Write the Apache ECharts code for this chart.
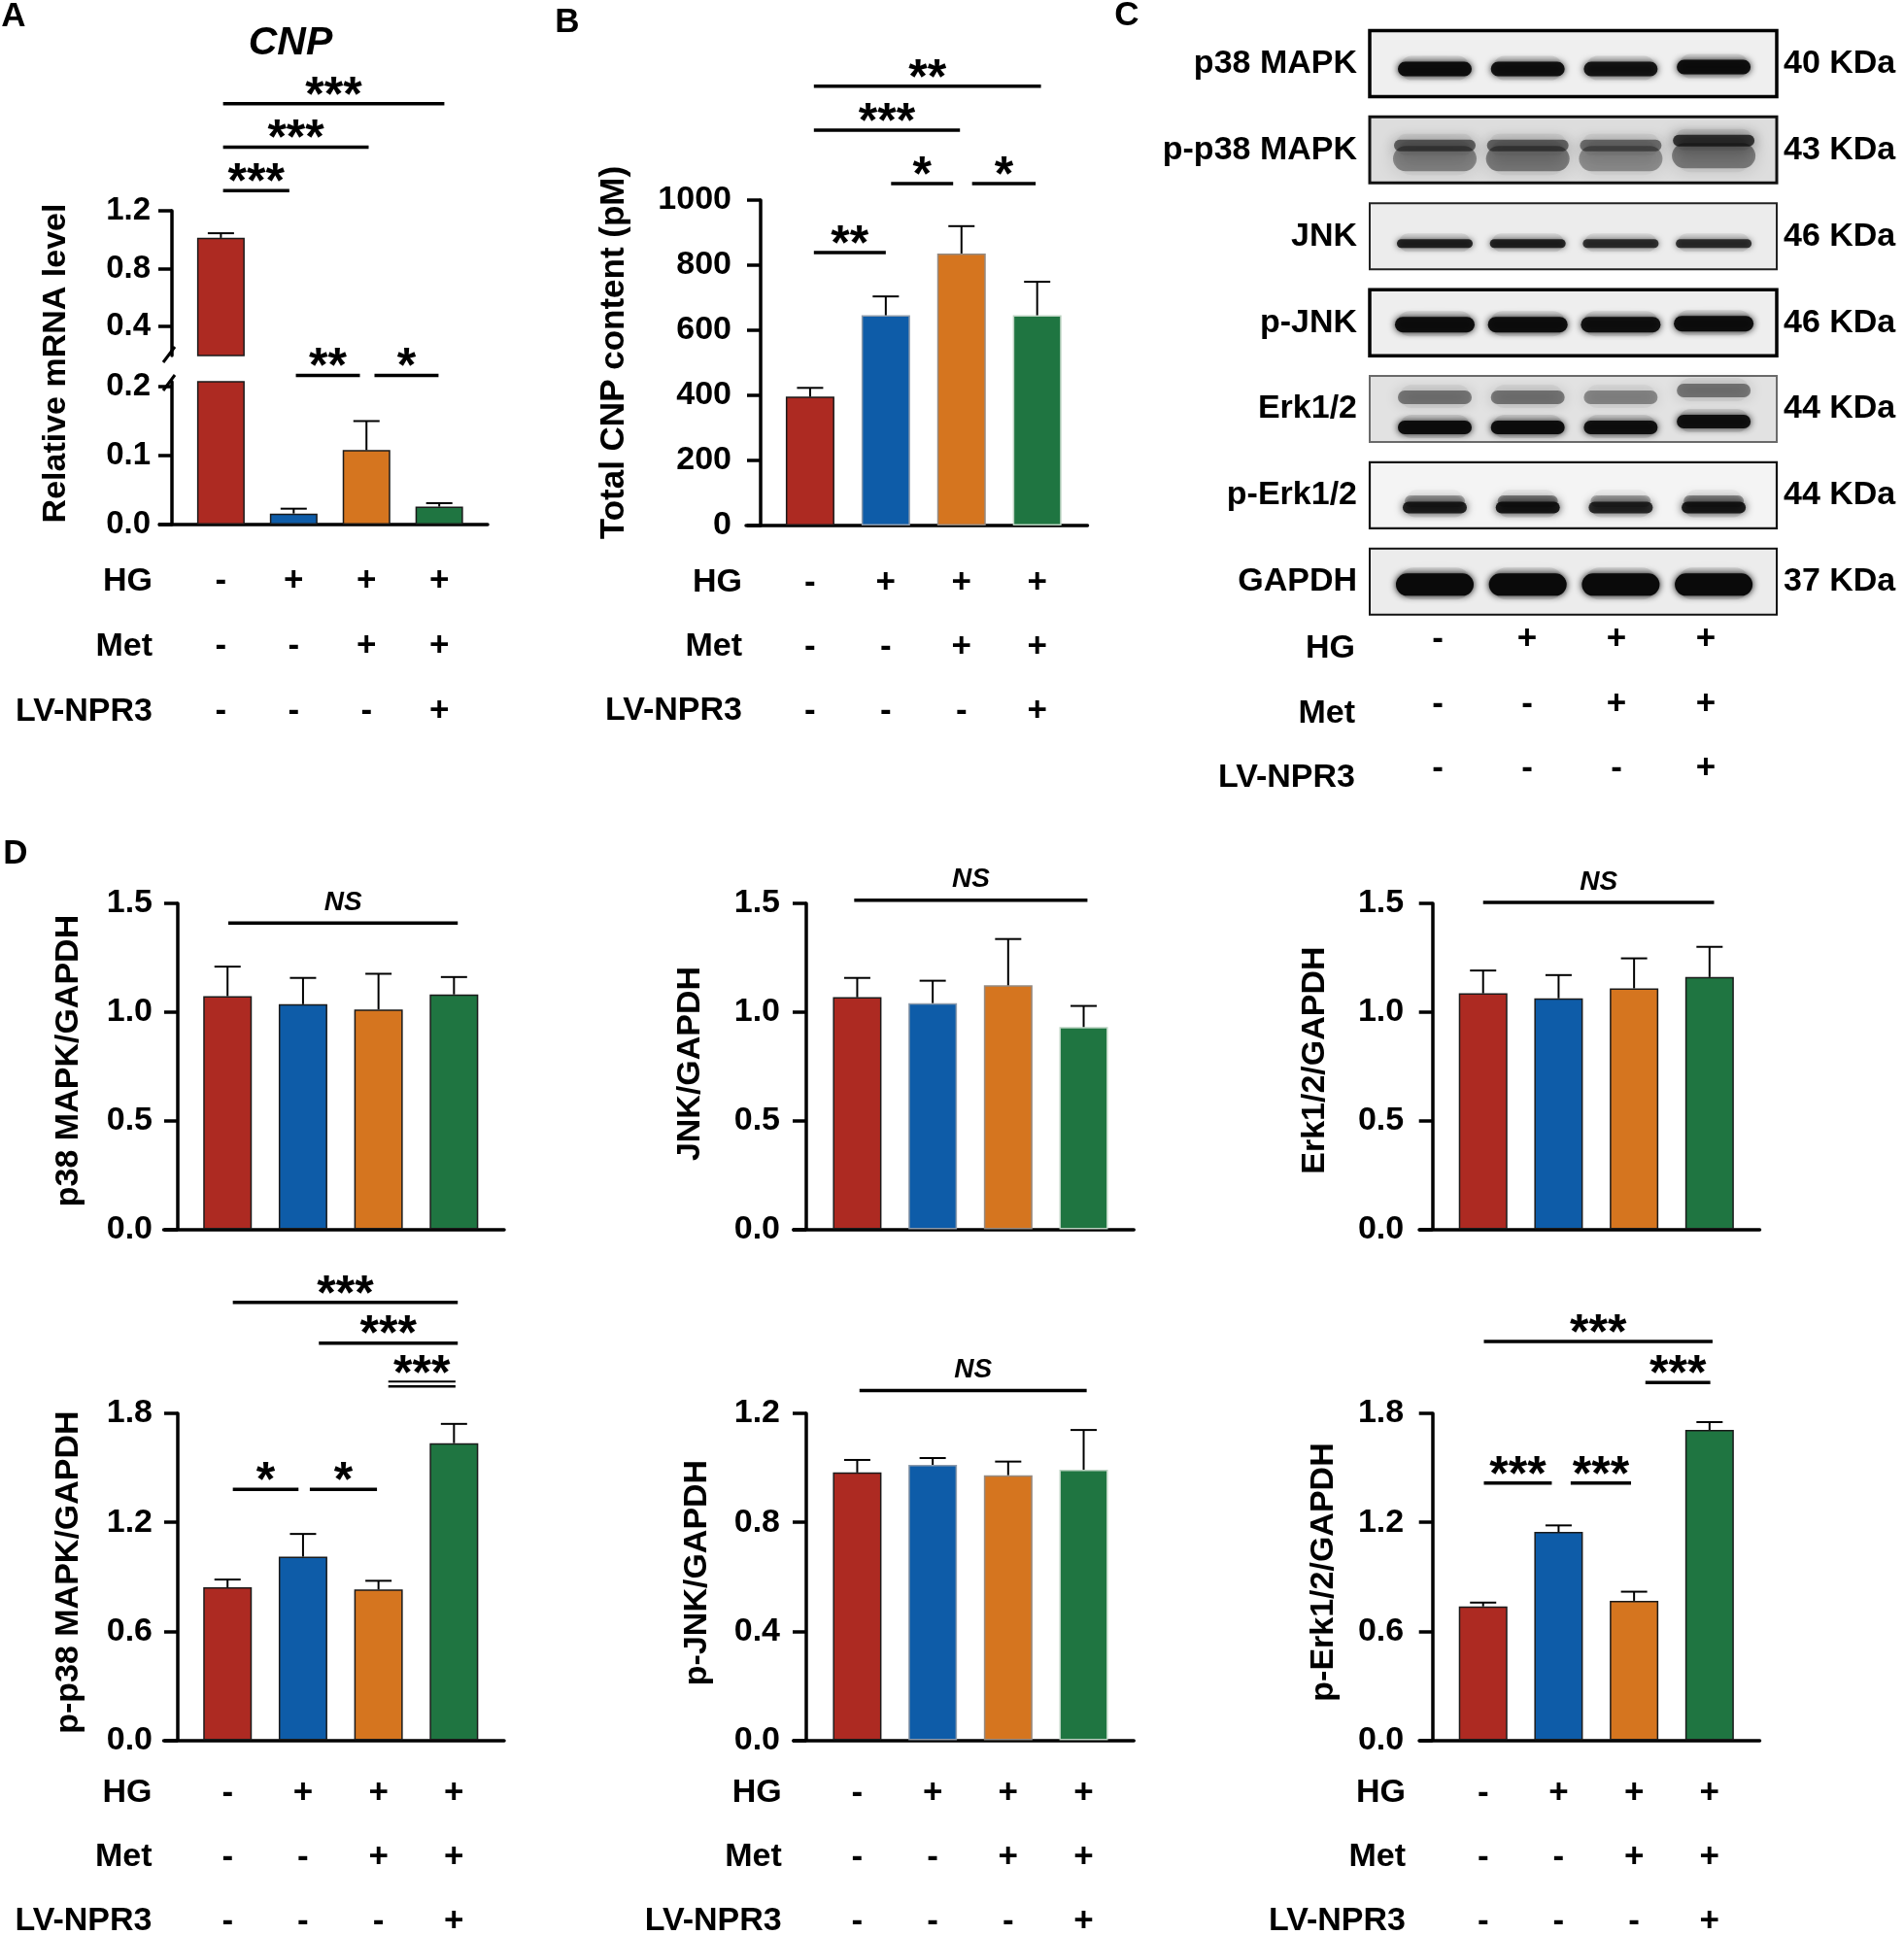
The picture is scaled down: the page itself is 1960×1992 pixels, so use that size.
<!DOCTYPE html>
<html>
<head>
<meta charset="utf-8">
<title>CNP / MAPK figure</title>
<script src="https://cdn.jsdelivr.net/npm/echarts@6/dist/echarts.min.js"></script>
<style>
html, body { margin: 0; padding: 0; background: #ffffff; }
#chart { width: 1960px; height: 1992px; }
</style>
</head>
<body>
<div id="chart"></div>
<script>
// ================= DATA =================
const groups = ['Control', 'HG', 'HG + Met', 'HG + Met + LV-NPR3'];
const conditionRows = ['HG', 'Met', 'LV-NPR3'];
const signHG  = ['-', '+', '+', '+'];
const signMet = ['-', '-', '+', '+'];
const signLV  = ['-', '-', '-', '+'];

// A: CNP relative mRNA level (broken axis)
const cnpMrna    = [1.013, 0.016, 0.108, 0.026];
const cnpMrnaErr = [0.032, 0.007, 0.042, 0.005];
const ticksMrnaUpper = [0.4, 0.8, 1.2];
const ticksMrnaLower = [0, 0.1, 0.2];

// B: total CNP content (pM)
const cnpContent    = [396, 646, 836, 646];
const cnpContentErr = [27, 58, 84, 103];

// D: densitometry ratios
const p38Ratio  = [1.073, 1.036, 1.012, 1.081];
const p38Err    = [0.136, 0.121, 0.164, 0.080];
const jnkRatio  = [1.068, 1.041, 1.123, 0.931];
const jnkErr    = [0.089, 0.103, 0.213, 0.097];
const erkRatio  = [1.086, 1.063, 1.109, 1.161];
const erkErr    = [0.105, 0.107, 0.138, 0.139];
const pp38Ratio = [0.842, 1.011, 0.830, 1.636];
const pp38Err   = [0.043, 0.125, 0.048, 0.106];
const pjnkRatio = [0.983, 1.011, 0.973, 0.993];
const pjnkErr   = [0.046, 0.025, 0.050, 0.146];
const perkRatio = [0.737, 1.147, 0.768, 1.709];
const perkErr   = [0.021, 0.036, 0.050, 0.043];

// significance brackets: [from group, to group, height in axis units, label, double line]
const sigAUpper = [[0.03, 3.07, 1.94, '***'], [0.03, 2.03, 1.64, '***'], [0.03, 0.94, 1.34, '***']];
const sigALower = [[1.03, 1.91, 0.216, '**'], [2.11, 2.99, 0.216, '*']];
const sigB    = [[0.05, 3.05, 1350, '**'], [0.05, 1.98, 1215, '***'], [1.07, 1.89, 1051, '*'], [2.14, 2.98, 1051, '*'], [0.05, 1.0, 839, '**']];
const sigP38  = [[0.01, 3.05, 1.41, 'NS']];
const sigJnk  = [[-0.04, 3.05, 1.515, 'NS']];
const sigErk  = [[0.0, 3.06, 1.505, 'NS']];
const sigPp38 = [[0.07, 3.05, 2.411, '***'], [1.21, 3.05, 2.187, '***'], [2.13, 3.02, 1.949, '***', 1], [0.07, 0.94, 1.381, '*'], [1.09, 1.98, 1.381, '*']];
const sigPjnk = [[0.03, 3.04, 1.284, 'NS']];
const sigPerk = [[0.01, 3.04, 2.196, '***'], [2.15, 3.01, 1.970, '***'], [0.01, 0.91, 1.416, '***'], [1.16, 1.96, 1.416, '***']];

// C: western blots (band density per lane, 0 = none, 1 = saturated)
const blotNames = ['p38 MAPK', 'p-p38 MAPK', 'JNK', 'p-JNK', 'Erk1/2', 'p-Erk1/2', 'GAPDH'];
const blotKDa   = ['40 KDa', '43 KDa', '46 KDa', '46 KDa', '44 KDa', '44 KDa', '37 KDa'];
const bandP38       = [0.97, 0.93, 0.90, 0.95];
const bandPP38Upper = [0.55, 0.52, 0.48, 0.75];
const bandPP38Lower = [0.38, 0.42, 0.34, 0.42];
const bandJNK       = [0.82, 0.82, 0.76, 0.76];
const bandPJNK      = [0.96, 0.96, 0.93, 0.96];
const bandErkUpper  = [0.45, 0.45, 0.38, 0.45];
const bandErkLower  = [0.96, 0.96, 0.93, 0.93];
const bandPErkHaze  = [0.30, 0.42, 0.28, 0.38];
const bandPErk      = [0.85, 0.90, 0.80, 0.88];
const bandGAPDH     = [1.00, 1.00, 1.00, 1.00];

// ================= STYLE / LAYOUT =================
const FONT = '"Liberation Sans", Arial, Helvetica, sans-serif';
const BAR_COLORS = ['#ad2a22', '#0e5ca8', '#d5751f', '#1f7541'];
const EDGE_DARK  = ['#1a1a1a', '#1a1a1a', '#1a1a1a', '#1a1a1a'];
const EDGE_LIGHT = ['#1a1a1a', '#8e9bab', '#948a82', '#bcd3c2'];
const X_MIN = -0.846, X_MAX = 3.665;
const AXIS_W = 3.5;
const SIGN_FONT = 35;

const grid = [], xAxis = [], yAxis = [], series = [], graphic = [];

function addGrid(g) {
  grid.push(Object.assign({ containLabel: false, outerBoundsMode: 'none' }, g));
  return grid.length - 1;
}

function renderErr(params, api) {
  const x = api.value(0), v = api.value(1), e = api.value(2);
  const p0 = api.coord([x, v]), p1 = api.coord([x, v + e]);
  const st = { stroke: '#000', lineWidth: 2 };
  return { type: 'group', children: [
    { type: 'line', shape: { x1: p0[0], y1: p0[1], x2: p1[0], y2: p1[1] }, style: st },
    { type: 'line', shape: { x1: p1[0] - 13.5, y1: p1[1], x2: p1[0] + 13.5, y2: p1[1] }, style: st }
  ]};
}

function makeSigRender(list) {
  return function (params, api) {
    const s = list[params.dataIndex];
    const a = api.coord([s[0], s[2]]), b = api.coord([s[1], s[2]]);
    const ns = s[3] === 'NS';
    const children = [];
    if (s[4]) {
      children.push({ type: 'line', shape: { x1: a[0], y1: a[1], x2: b[0], y2: a[1] }, style: { stroke: '#000', lineWidth: 2.5 } });
      children.push({ type: 'line', shape: { x1: a[0], y1: a[1] - 5, x2: b[0], y2: a[1] - 5 }, style: { stroke: '#000', lineWidth: 2 } });
    } else {
      children.push({ type: 'line', shape: { x1: a[0], y1: a[1], x2: b[0], y2: a[1] }, style: { stroke: '#000', lineWidth: 3.5 } });
    }
    children.push({ type: 'text', x: (a[0] + b[0]) / 2, y: a[1] - (ns ? 21 : (s[4] ? 11 : 7)),
      style: { text: s[3], fill: '#000', fontSize: ns ? 28 : 50, fontWeight: 'bold', fontStyle: ns ? 'italic' : 'normal',
               fontFamily: FONT, align: 'center', verticalAlign: 'middle' } });
    return { type: 'group', children };
  };
}

function addBarPanel(p) {
  const gi = addGrid({ left: p.left, top: p.top, width: p.width, height: p.height });
  const xi = xAxis.length;
  xAxis.push({ type: 'value', gridIndex: gi, min: X_MIN, max: X_MAX,
    axisLine: { show: p.xLine !== false, onZero: false, lineStyle: { color: '#000', width: AXIS_W } },
    axisTick: { show: false }, axisLabel: { show: false }, splitLine: { show: false } });
  const yi = yAxis.length;
  const labelCfg = { margin: p.labelMargin, color: '#000', fontSize: p.tickFont, fontWeight: 'bold', fontFamily: FONT,
    formatter: v => p.dec ? Number(v).toFixed(p.dec) : String(Math.round(v)) };
  const tickCfg = { show: true, length: 14, lineStyle: { color: '#000', width: AXIS_W } };
  if (p.ticks) { labelCfg.customValues = p.ticks; tickCfg.customValues = p.ticks; }
  const ya = { type: 'value', gridIndex: gi, min: p.min, max: p.max, offset: -p.yOff,
    axisLine: { show: true, onZero: false, lineStyle: { color: '#000', width: AXIS_W } },
    axisTick: tickCfg, axisLabel: labelCfg, splitLine: { show: false } };
  if (p.interval) ya.interval = p.interval;
  yAxis.push(ya);
  const idx = p.only || [0, 1, 2, 3];
  const edges = p.edges || EDGE_DARK;
  series.push({ type: 'bar', xAxisIndex: xi, yAxisIndex: yi, barWidth: p.barWidth || 50, silent: true, animation: false, z: 2, clip: true,
    data: idx.map(i => ({ value: [i, p.vals[i]], itemStyle: { color: BAR_COLORS[i], borderColor: edges[i], borderWidth: 1.5 } })) });
  const eIdx = p.errOnly || idx;
  series.push({ type: 'custom', xAxisIndex: xi, yAxisIndex: yi, silent: true, animation: false, z: 3,
    data: eIdx.map(i => [i, p.vals[i], p.errs[i]]), renderItem: renderErr });
  if (p.sig) {
    series.push({ type: 'custom', xAxisIndex: xi, yAxisIndex: yi, silent: true, animation: false, z: 4,
      data: p.sig.map(s => [s[0], s[2], s[1]]), renderItem: makeSigRender(p.sig) });
  }
}

function addSignTable(t) {
  const gi = addGrid({ left: t.left, top: t.top, width: t.width, height: t.height });
  const xi = xAxis.length;
  xAxis.push({ type: 'value', gridIndex: gi, min: t.min, max: t.max, show: false });
  const yi = yAxis.length;
  yAxis.push({ type: 'category', gridIndex: gi, data: conditionRows, inverse: true,
    axisLine: { show: false }, axisTick: { show: false }, splitLine: { show: false },
    axisLabel: { interval: 0, margin: t.margin, color: '#000', fontSize: 34, fontWeight: 'bold', fontFamily: FONT } });
  const rows = [signHG, signMet, signLV];
  const dy = t.signShift || 0;
  const data = [];
  rows.forEach((row, r) => row.forEach((s, g) => data.push([g, r])));
  series.push({ type: 'custom', xAxisIndex: xi, yAxisIndex: yi, silent: true, animation: false, data,
    renderItem: (params, api) => {
      const g = api.value(0), r = api.value(1);
      const c = api.coord([g, r]);
      return { type: 'text', x: c[0], y: c[1] + dy, style: { text: rows[r][g], fill: '#000', fontSize: SIGN_FONT, fontWeight: 'bold',
        fontFamily: FONT, align: 'center', verticalAlign: 'middle' } };
    } });
}

// ---------- Panel A (broken axis) ----------
const A_LAY = { left: 164, width: 338, yOff: 13, labelMargin: 22, tickFont: 33, barWidth: 49 };
const A_UP = { top: 217, height: 149 };
const A_LO = { top: 393, height: 147 };
addBarPanel(Object.assign({}, A_LAY, A_UP, { min: 0.2, max: 1.2, ticks: ticksMrnaUpper, dec: 1, xLine: false,
  vals: cnpMrna, errs: cnpMrnaErr, only: [0], sig: sigAUpper }));
addBarPanel(Object.assign({}, A_LAY, A_LO, { min: 0, max: 0.207, ticks: ticksMrnaLower, dec: 1,
  vals: cnpMrna, errs: cnpMrnaErr, errOnly: [1, 2, 3], sig: sigALower }));
addSignTable({ left: 164, width: 338, top: 565, height: 201, min: X_MIN, max: X_MAX, margin: 7 });

// ---------- Panel B ----------
addBarPanel({ left: 768, top: 206, width: 351.5, height: 335, yOff: 15, labelMargin: 30, tickFont: 34,
  min: 0, max: 1000, interval: 200, dec: 0, vals: cnpContent, errs: cnpContentErr, sig: sigB, edges: EDGE_LIGHT });
addSignTable({ left: 768, width: 351.5, top: 567, height: 198, min: X_MIN, max: X_MAX, margin: 4 });

// ---------- Panel D ----------
const D_COLS = [
  { left: 168.5, yOff: 14.5, labelMargin: 26, rowMargin: 12 },
  { left: 816.7, yOff: 13.3, labelMargin: 27, rowMargin: 12 },
  { left: 1461,  yOff: 13.7, labelMargin: 29.5, rowMargin: 14 }
];
const D_ROWS = [{ top: 930, height: 335.5 }, { top: 1455, height: 336.5 }];
const dPanels = [
  { vals: p38Ratio,  errs: p38Err,  sig: sigP38,  col: 0, row: 0, max: 1.5, interval: 0.5, edges: EDGE_DARK },
  { vals: jnkRatio,  errs: jnkErr,  sig: sigJnk,  col: 1, row: 0, max: 1.5, interval: 0.5, edges: EDGE_LIGHT },
  { vals: erkRatio,  errs: erkErr,  sig: sigErk,  col: 2, row: 0, max: 1.5, interval: 0.5, edges: EDGE_DARK },
  { vals: pp38Ratio, errs: pp38Err, sig: sigPp38, col: 0, row: 1, max: 1.8, interval: 0.6, edges: EDGE_DARK },
  { vals: pjnkRatio, errs: pjnkErr, sig: sigPjnk, col: 1, row: 1, max: 1.2, interval: 0.4, edges: EDGE_LIGHT },
  { vals: perkRatio, errs: perkErr, sig: sigPerk, col: 2, row: 1, max: 1.8, interval: 0.6, edges: EDGE_DARK }
];
dPanels.forEach(d => {
  const c = D_COLS[d.col], r = D_ROWS[d.row];
  addBarPanel({ left: c.left, top: r.top, width: 350.5, height: r.height, yOff: c.yOff, labelMargin: c.labelMargin,
    tickFont: 34, min: 0, max: d.max, interval: d.interval, dec: 1, vals: d.vals, errs: d.errs, sig: d.sig, edges: d.edges });
});
D_COLS.forEach(c => addSignTable({ left: c.left, width: 350.5, top: 1813, height: 198, min: X_MIN, max: X_MAX, margin: c.rowMargin }));

// ---------- Panel C (western blots) ----------
const BLOT = { left: 1410, top: 21, width: 419, height: 622.3, min: -0.70, max: 3.678, boxH: 68 };
const BOX_BG = ['#efefef', '#dddddd', '#ececec', '#eeeeee', '#e2e2e2', '#f4f4f4', '#ececec'];
const BOX_EDGE = ['#000', '#111', '#222', '#000', '#6a6a6a', '#111', '#111'];
const BOX_LW = [3.5, 3, 2, 3.5, 2, 2.2, 2];
const bandLayers = [
  { row: 0, dens: bandP38,       off: 5.6,  thick: 15, w: 76, blur: 7,  shift: [0, 0, 0, -2] },
  { row: 1, dens: bandPP38Lower, off: 9,    thick: 26, w: 86, blur: 18, shift: [0, 0, 0, -3] },
  { row: 1, dens: bandPP38Upper, off: -4.5, thick: 12, w: 84, blur: 14, shift: [0, 0, 0, -5] },
  { row: 2, dens: bandJNK,       off: 7.5,  thick: 9,  w: 78, blur: 6,  shift: [0, 0, 0, 0] },
  { row: 3, dens: bandPJNK,      off: 2,    thick: 16, w: 82, blur: 7,  shift: [0, 0, 0, -1] },
  { row: 4, dens: bandErkUpper,  off: -12,  thick: 14, w: 76, blur: 14, shift: [0, 0, 0, -7] },
  { row: 4, dens: bandErkLower,  off: 19,   thick: 14, w: 76, blur: 7,  shift: [0, 0, 0, -6] },
  { row: 5, dens: bandPErkHaze,  off: 6,    thick: 12, w: 62, blur: 12, shift: [0, 0, 0, 0] },
  { row: 5, dens: bandPErk,      off: 12.5, thick: 12, w: 66, blur: 8,  shift: [0, 0, 0, 0] },
  { row: 6, dens: bandGAPDH,     off: 3,    thick: 23, w: 80, blur: 7,  shift: [0, 0, 0, 0] }
];
(function addBlots() {
  const gi = addGrid({ left: BLOT.left, top: BLOT.top, width: BLOT.width, height: BLOT.height });
  const xi = xAxis.length;
  xAxis.push({ type: 'value', gridIndex: gi, min: BLOT.min, max: BLOT.max, show: false });
  const yi = yAxis.length;
  const lab = { interval: 0, color: '#000', fontSize: 34, fontWeight: 'bold', fontFamily: FONT };
  yAxis.push({ type: 'category', gridIndex: gi, data: blotNames, inverse: true, position: 'left',
    axisLine: { show: false }, axisTick: { show: false }, splitLine: { show: false }, axisLabel: Object.assign({ margin: 13 }, lab) });
  yAxis.push({ type: 'category', gridIndex: gi, data: blotKDa, inverse: true, position: 'right',
    axisLine: { show: false }, axisTick: { show: false }, splitLine: { show: false }, axisLabel: Object.assign({ margin: 7 }, lab) });
  series.push({ type: 'custom', xAxisIndex: xi, yAxisIndex: yi, silent: true, animation: false, z: 1,
    data: blotNames.map((n, i) => [0, i]),
    renderItem: (params, api) => {
      const r = api.value(1);
      const c = api.coord([0, r]);
      const cs = params.coordSys;
      return { type: 'rect', shape: { x: cs.x, y: c[1] - BLOT.boxH / 2, width: cs.width, height: BLOT.boxH },
        style: { fill: BOX_BG[r], stroke: BOX_EDGE[r], lineWidth: BOX_LW[r] } };
    } });
  const bandData = [];
  bandLayers.forEach((L, li) => L.dens.forEach((d, lane) => bandData.push([lane, L.row, d, li])));
  series.push({ type: 'custom', xAxisIndex: xi, yAxisIndex: yi, silent: true, animation: false, z: 2,
    data: bandData,
    renderItem: (params, api) => {
      const lane = api.value(0), row = api.value(1), d = api.value(2), li = api.value(3);
      const L = bandLayers[li];
      const c = api.coord([lane, row]);
      const w = L.w, h = L.thick, cy = c[1] + L.off + L.shift[lane];
      const haze = 'rgba(40,40,40,' + (d * 0.12).toFixed(3) + ')';
      const core = 'rgba(10,10,10,' + d.toFixed(3) + ')';
      return { type: 'group', children: [
        { type: 'rect', shape: { x: c[0] - w / 2 + 2, y: cy - h / 2 - 6, width: w - 4, height: h + 10, r: (h + 10) / 2 },
          style: { fill: haze, shadowBlur: L.blur * 2.5, shadowColor: haze } },
        { type: 'rect', shape: { x: c[0] - w / 2, y: cy - h / 2, width: w, height: h, r: h / 2 },
          style: { fill: core, shadowBlur: L.blur, shadowColor: core } }
      ]};
    } });
})();
addSignTable({ left: BLOT.left, width: BLOT.width, top: 634.5, height: 199.5, min: -0.761, max: 3.793, margin: 15, signShift: -9 });

// ---------- texts ----------
function txt(text, x, y, size, extra) {
  return { type: 'text', x, y, silent: true, z: 10,
    style: Object.assign({ text, fill: '#000', fontSize: size, fontWeight: 'bold', fontFamily: FONT, align: 'center', verticalAlign: 'middle' }, extra || {}) };
}
graphic.push(txt('A', 14, 17.5, 35));
graphic.push(txt('B', 584, 23.5, 35));
graphic.push(txt('C', 1160, 16, 35));
graphic.push(txt('D', 16, 879.5, 35));
graphic.push(txt('CNP', 299, 45, 41, { fontStyle: 'italic' }));
const yTitles = [
  { text: 'Relative mRNA level', x: 57.5, y: 374, size: 34 },
  { text: 'Total CNP content (pM)', x: 632.5, y: 363, size: 35 },
  { text: 'p38 MAPK/GAPDH', x: 70.8, y: 1092, size: 34 },
  { text: 'JNK/GAPDH', x: 710.8, y: 1095, size: 34 },
  { text: 'Erk1/2/GAPDH', x: 1353.6, y: 1091.6, size: 34 },
  { text: 'p-p38 MAPK/GAPDH', x: 70.6, y: 1618.6, size: 34 },
  { text: 'p-JNK/GAPDH', x: 718, y: 1619, size: 34 },
  { text: 'p-Erk1/2/GAPDH', x: 1363, y: 1618.5, size: 34 }
];
yTitles.forEach(t => { const g = txt(t.text, t.x, t.y, t.size); g.rotation = Math.PI / 2; graphic.push(g); });
// axis-break marks on panel A
const axX = A_LAY.left + A_LAY.yOff, upB = A_UP.top + A_UP.height, loT = A_LO.top;
graphic.push({ type: 'line', silent: true, z: 10, shape: { x1: axX - 9, y1: upB + 7, x2: axX + 3, y2: upB - 9 }, style: { stroke: '#000', lineWidth: 3 } });
graphic.push({ type: 'line', silent: true, z: 10, shape: { x1: axX - 9, y1: loT + 9, x2: axX + 3, y2: loT - 7 }, style: { stroke: '#000', lineWidth: 3 } });

const chart = echarts.init(document.getElementById('chart'), null, { renderer: 'canvas' });
chart.setOption({
  backgroundColor: '#ffffff',
  animation: false,
  textStyle: { fontFamily: FONT },
  grid, xAxis, yAxis, series, graphic
});
</script>
</body>
</html>
